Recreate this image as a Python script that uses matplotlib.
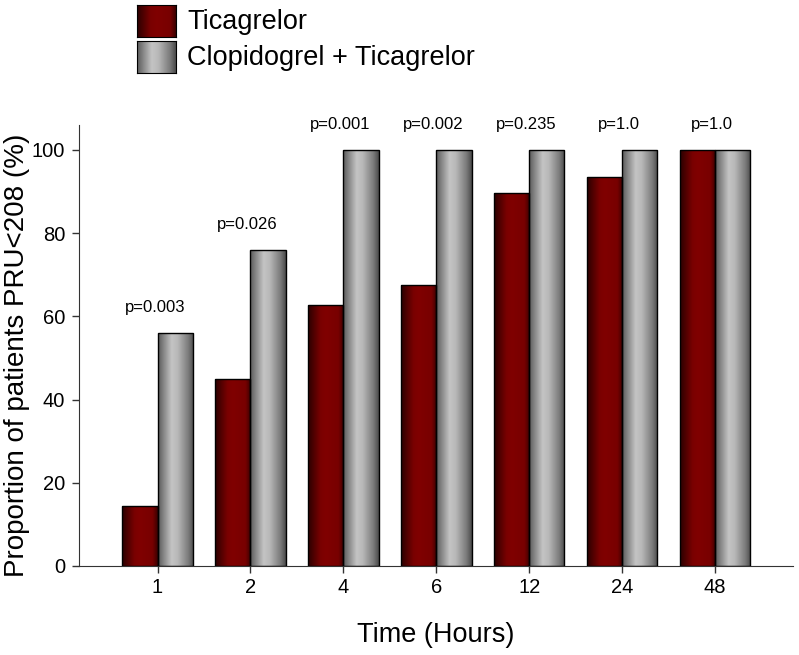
import numpy as np
import matplotlib.pyplot as plt
from matplotlib.colors import LinearSegmentedColormap

plt.rcParams['font.family'] = ['Liberation Sans', 'DejaVu Sans']

# data
hours = ['1', '2', '4', '6', '12', '24', '48']
ticagrelor = [14.5, 45.0, 62.8, 67.5, 89.7, 93.5, 100.0]
clopi_tica = [56.1, 76.0, 100.0, 100.0, 100.0, 100.0, 100.0]
p_values = ['p=0.003', 'p=0.026', 'p=0.001', 'p=0.002', 'p=0.235', 'p=1.0', 'p=1.0']
series_names = ['Ticagrelor', 'Clopidogrel + Ticagrelor']

# cylinder-like shading for the bars
red_cmap = LinearSegmentedColormap.from_list('red', [
    (0.0, '#2a0000'), (0.35, '#7a0000'), (0.5, '#800000'),
    (0.85, '#780000'), (1.0, '#3a0000')])
gray_cmap = LinearSegmentedColormap.from_list('gray', [
    (0.0, '#5a5a5a'), (0.38, '#c4c4c4'), (0.55, '#b8b8b8'),
    (0.85, '#7a7a7a'), (1.0, '#4a4a4a')])
grad = np.linspace(0, 1, 256).reshape(1, -1)


def shade_bars(ax, bars, cmap):
    for b in bars:
        x0, y0 = b.get_x(), b.get_y()
        w, h = b.get_width(), b.get_height()
        im = ax.imshow(grad, cmap=cmap, aspect='auto', extent=(x0, x0 + w, y0, y0 + h),
                       interpolation='bicubic', zorder=2)
        im.set_clip_path(b)


fig = plt.figure(figsize=(7.99, 6.55), dpi=100)
ax = fig.add_axes([0.0989, 0.1359, 0.8936, 0.6733])

x = np.arange(len(hours))
w = 0.38
b1 = ax.bar(x - w / 2, ticagrelor, w, facecolor='none', edgecolor='black', linewidth=1, zorder=3)
b2 = ax.bar(x + w / 2, clopi_tica, w, facecolor='none', edgecolor='black', linewidth=1, zorder=3)
shade_bars(ax, b1, red_cmap)
shade_bars(ax, b2, gray_cmap)

for xi, top, p in zip(x, clopi_tica, p_values):
    ax.text(xi - 0.03, top + 6, p, ha='center', va='center', fontsize=12)

ax.set_xlim(-0.845, 6.84)
ax.set_ylim(0, 106)
ax.set_xticks(x)
ax.set_xticklabels(hours)
ax.set_yticks([0, 20, 40, 60, 80, 100])
ax.tick_params(labelsize=14.5, direction='out', length=5, width=1, color='#333333')
ax.tick_params(axis='y', pad=5)
ax.spines['top'].set_visible(False)
ax.spines['right'].set_visible(False)
for s in ('left', 'bottom'):
    ax.spines[s].set_color('#333333')
ax.set_xlabel('Time (Hours)', fontsize=19.5, labelpad=18)
fig.text(4 / 799, 1 - 355 / 655, 'Proportion of patients PRU<208 (%)', fontsize=20,
         rotation=90, ha='left', va='center')

# legend swatches with the same shading
for i, (name, cmap) in enumerate(zip(series_names, [red_cmap, gray_cmap])):
    top = 5 + i * 36
    sw = fig.add_axes([137 / 799, 1 - (top + 32) / 655, 39 / 799, 32 / 655])
    sw.imshow(grad, cmap=cmap, aspect='auto', interpolation='bicubic')
    sw.set_xticks([])
    sw.set_yticks([])
    for sp in sw.spines.values():
        sp.set_color('black')
    fig.text(187 / 799, 1 - (top + 17) / 655, name, fontsize=19.5, va='center', ha='left')

fig.savefig('out.png', dpi=100)
